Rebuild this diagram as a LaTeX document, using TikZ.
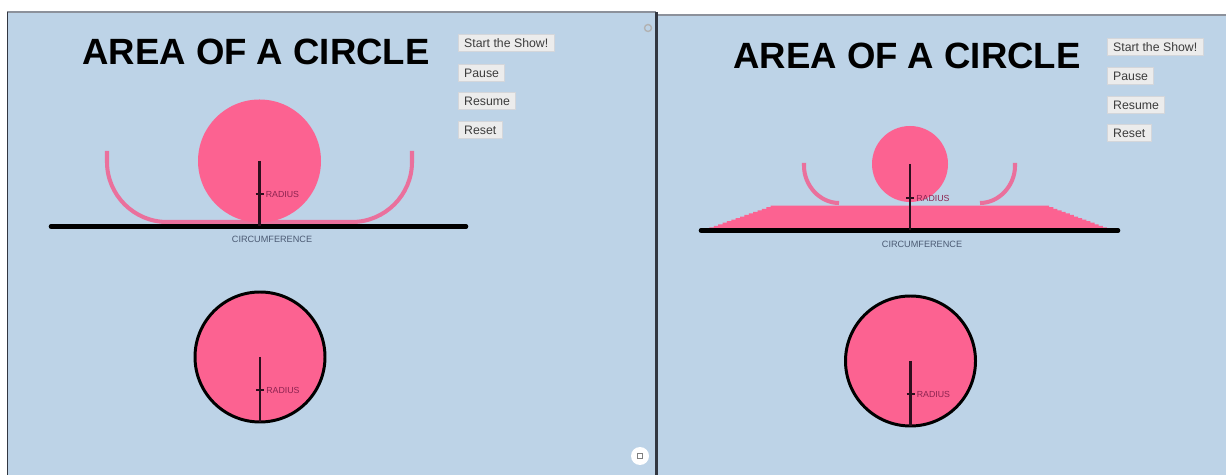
\documentclass[tikz,border=0pt]{standalone}
\usepackage{fontspec}
\setmainfont{Liberation Sans}
\usetikzlibrary{positioning,calc}

\definecolor{bgblue}{RGB}{189,211,231}
\definecolor{pinkfill}{RGB}{252,98,145}
\definecolor{armpink}{RGB}{234,112,156}
\definecolor{btnfill}{RGB}{236,236,236}
\definecolor{btnline}{RGB}{212,214,218}
\definecolor{btntext}{RGB}{60,60,60}
\definecolor{radred}{RGB}{140,35,80}
\definecolor{raddark}{RGB}{45,15,30}
\definecolor{circgray}{RGB}{75,90,115}
\definecolor{framegray}{RGB}{140,145,155}
\definecolor{framedark}{RGB}{50,55,65}

\tikzset{
  btn/.style={draw=btnline, fill=btnfill, text=btntext, font=\fontsize{7}{8}\selectfont,
    anchor=north west, inner xsep=3.3pt, inner ysep=0pt, minimum height=0.35cm},
  title/.style={font=\fontsize{20.8}{24}\selectfont\bfseries, anchor=base},
  radlbl/.style={font=\fontsize{5}{6}\selectfont, text=radred, inner sep=0pt},
  circlbl/.style={font=\fontsize{5.2}{6}\selectfont, text=circgray, inner sep=0pt},
  radline/.style={line width=1.2pt, draw=raddark},
  groundline/.style={line width=2.6pt, draw=black, line cap=round},
  arm/.style={line width=2.3pt, draw=armpink},
  rimcircle/.style={fill=pinkfill, draw=black, line width=1.7pt},
}

\begin{document}
\begin{tikzpicture}[x=0.02cm, y=-0.02cm]
  \useasboundingbox (0,0) rectangle (1226,475);
  \fill[white] (0,0) rectangle (1226,475);

  % the two screens
  \fill[bgblue] (7,12) rectangle (656,475);
  \draw[framegray, line width=0.8pt] (7,12) -- (656,12);
  \draw[framedark, line width=0.9pt] (7.5,12) -- (7.5,475);
  \fill[bgblue] (657,15) rectangle (1226,475);
  \draw[framegray, line width=0.8pt] (657,15) -- (1226,15);
  \draw[framedark, line width=1.3pt] (656.5,12) -- (656.5,475);

  % titles
  \node[title] (titleL) at (256,65) {AREA OF A CIRCLE};
  \node[title] (titleR) at (907,69) {AREA OF A CIRCLE};

  % buttons
  \foreach \lbl/\yy [count=\i] in {Start the Show!/34, Pause/64, Resume/92, Reset/121}
    \node[btn] (btnL\i) at (458,\yy) {\lbl};
  \foreach \lbl/\yy [count=\i] in {Start the Show!/38, Pause/67, Resume/96, Reset/124}
    \node[btn] (btnR\i) at (1107,\yy) {\lbl};

  % left screen: rim unrolling
  \draw[arm] (107,151) -- (107,162) .. controls (107,195) and (134,222) .. (167,222)
    -- (352,222) .. controls (385,222) and (412,195) .. (412,162) -- (412,151);
  \coordinate (cL) at (259.5,161);
  \fill[pinkfill] (cL) circle (61.5);
  \coordinate (gLa) at (51,226.5);
  \coordinate (gLb) at (466,226.5);
  \draw[groundline] (gLa) -- (gLb);
  \coordinate (cLbot) at (259.5,226.5);
  \draw[radline] (cL) -- (cLbot);
  \coordinate (tickL) at (259.5,194);
  \draw[radline] ([xshift=-0.08cm]tickL) -- ([xshift=0.08cm]tickL);
  \node[radlbl, right=0.12cm of tickL] (radL) {RADIUS};
  \node[circlbl] (circL) at (272,239) {CIRCUMFERENCE};

  % left screen: whole circle
  \coordinate (dL) at (260,357);
  \draw[rimcircle] (dL) circle (65);
  \coordinate (dLbot) at (260,422);
  \draw[radline] (dL) -- (dLbot);
  \coordinate (tickLd) at (260,390);
  \draw[radline] ([xshift=-0.08cm]tickLd) -- ([xshift=0.08cm]tickLd);
  \node[radlbl, right=0.12cm of tickLd] (radLd) {RADIUS};

  % right screen: rings laid flat
  \draw[arm] (804,163) -- (804,166) .. controls (804,185.3) and (819.7,203) .. (839,203);
  \draw[arm] (1015,163) -- (1015,166) .. controls (1015,185.3) and (999.3,203) .. (980,203);
  \fill[pinkfill] (705,230.5) \foreach \k in {1,...,16} { -- ++(0,-1.55) -- ++(4.375,0) }
    -- (1045,205.7) \foreach \k in {1,...,16} { -- ++(4.125,0) -- ++(0,1.55) } -- cycle;
  \coordinate (cR) at (910,164);
  \fill[pinkfill] (cR) circle (38);
  \coordinate (gRa) at (701,230.5);
  \coordinate (gRb) at (1118,230.5);
  \draw[groundline] (gRa) -- (gRb);
  \coordinate (cRbot) at (910,230.5);
  \draw[radline] (cR) -- (cRbot);
  \coordinate (tickR) at (910,198);
  \draw[radline] ([xshift=-0.08cm]tickR) -- ([xshift=0.08cm]tickR);
  \node[radlbl, right=0.12cm of tickR] (radR) {RADIUS};
  \node[circlbl] (circR) at (922,244) {CIRCUMFERENCE};

  % right screen: whole circle
  \coordinate (dR) at (910.5,361);
  \draw[rimcircle] (dR) circle (65);
  \coordinate (dRbot) at (910.5,426);
  \draw[radline] (dR) -- (dRbot);
  \coordinate (tickRd) at (910.5,394);
  \draw[radline] ([xshift=-0.08cm]tickRd) -- ([xshift=0.08cm]tickRd);
  \node[radlbl, right=0.12cm of tickRd] (radRd) {RADIUS};

  % small window icons
  \node[circle, fill=white, minimum size=0.36cm, inner sep=0pt] (zoomicon) at (640,456) {};
  \draw[gray, line width=0.5pt] (zoomicon.center) ++(-2.5,-2.5) rectangle ++(5,5);
  \node[circle, draw=gray!60, line width=0.8pt, minimum size=0.14cm, inner sep=0pt] (refreshicon) at (648,28) {};
\end{tikzpicture}
\end{document}
